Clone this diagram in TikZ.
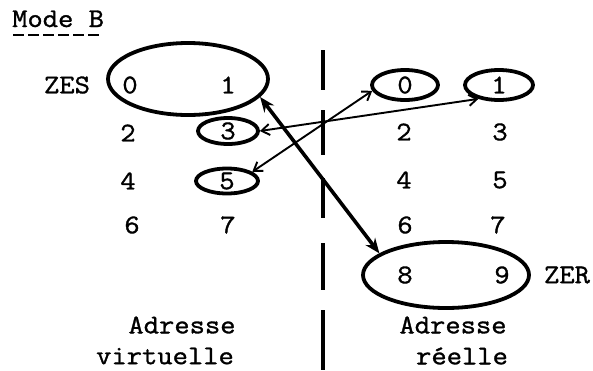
\documentclass[tikz,border=0pt]{standalone}
\usepackage{fontspec}
\setmonofont[FakeStretch=1.1,FakeBold=1.2]{Latin Modern Mono}
\usetikzlibrary{shapes.geometric,arrows.meta}
\tikzset{
  lbl/.style={inner sep=0pt, font=\fontsize{27}{30}\selectfont\ttfamily},
  ell/.style={ellipse, draw, line width=3.8pt, inner sep=0pt, font=\fontsize{27}{30}\selectfont\ttfamily},
  thickarr/.style={line width=3.6pt, {Stealth[length=15pt,width=12pt]}-{Stealth[length=15pt,width=12pt]}},
  thinarr/.style={line width=1.9pt, {Straight Barb[length=8pt,width=11pt,line width=1.9pt]}-{Straight Barb[length=8pt,width=11pt,line width=1.9pt]}},
  divider/.style={line width=3.8pt}
}
\begin{document}
\begin{tikzpicture}[x=1pt,y=-1pt]
\useasboundingbox (0,0) rectangle (593,370);
% title
\node[lbl, anchor=base west] (title) at (12,27) {Mode B};
\draw[line width=2pt, dash pattern=on 11pt off 4pt] (13,35) -- (102,35);
% left ellipses
\node[ell, minimum width=160pt, minimum height=72pt] (zes) at (188,79) {};
\node[ell, minimum width=60pt, minimum height=26pt] (e3) at (228,131) {3};
\node[ell, minimum width=62pt, minimum height=25pt] (e5) at (227,181) {5};
% right ellipses
\node[ell, minimum width=66pt, minimum height=30pt] (r0) at (405,85) {0};
\node[ell, minimum width=68pt, minimum height=30pt] (r1) at (499,85) {1};
\node[ell, minimum width=166pt, minimum height=66pt] (zer) at (446,275) {};
% left labels
\node[lbl] (zesl) at (67,85) {ZES};
\node[lbl] (l0) at (130,85) {0};
\node[lbl] (l1) at (228,85) {1};
\node[lbl] (l2) at (128,133) {2};
\node[lbl] (l4) at (128,181) {4};
\node[lbl] (l6) at (132,225) {6};
\node[lbl] (l7) at (228,225) {7};
% right labels
\node[lbl] (r2) at (404,132) {2};
\node[lbl] (r3) at (500,132) {3};
\node[lbl] (r4) at (404,180) {4};
\node[lbl] (r5) at (500,180) {5};
\node[lbl] (r6) at (405,225) {6};
\node[lbl] (r7) at (498,225) {7};
\node[lbl] (r8) at (405,275) {8};
\node[lbl] (r9) at (502,275) {9};
\node[lbl] (zerl) at (567,275) {ZER};
% captions
\node[lbl] (adl) at (182,325) {Adresse};
\node[lbl] (virt) at (165,356) {virtuelle};
\node[lbl] (adr) at (453,325) {Adresse};
\node[lbl] (reel) at (462,356) {r\'eelle};
% divider
\draw[divider] (323,50) -- (323,90) (323,110) -- (323,155) (323,178) -- (323,218)
  (323,243) -- (323,290) (323,310) -- (323,370);
% arrows
\draw[thickarr] (zes.-14) -- (zer.162);
\draw[thinarr] (e3.east) -- (r1.-146);
\draw[thinarr] (e5.20) -- (r0.190);
\end{tikzpicture}
\end{document}
